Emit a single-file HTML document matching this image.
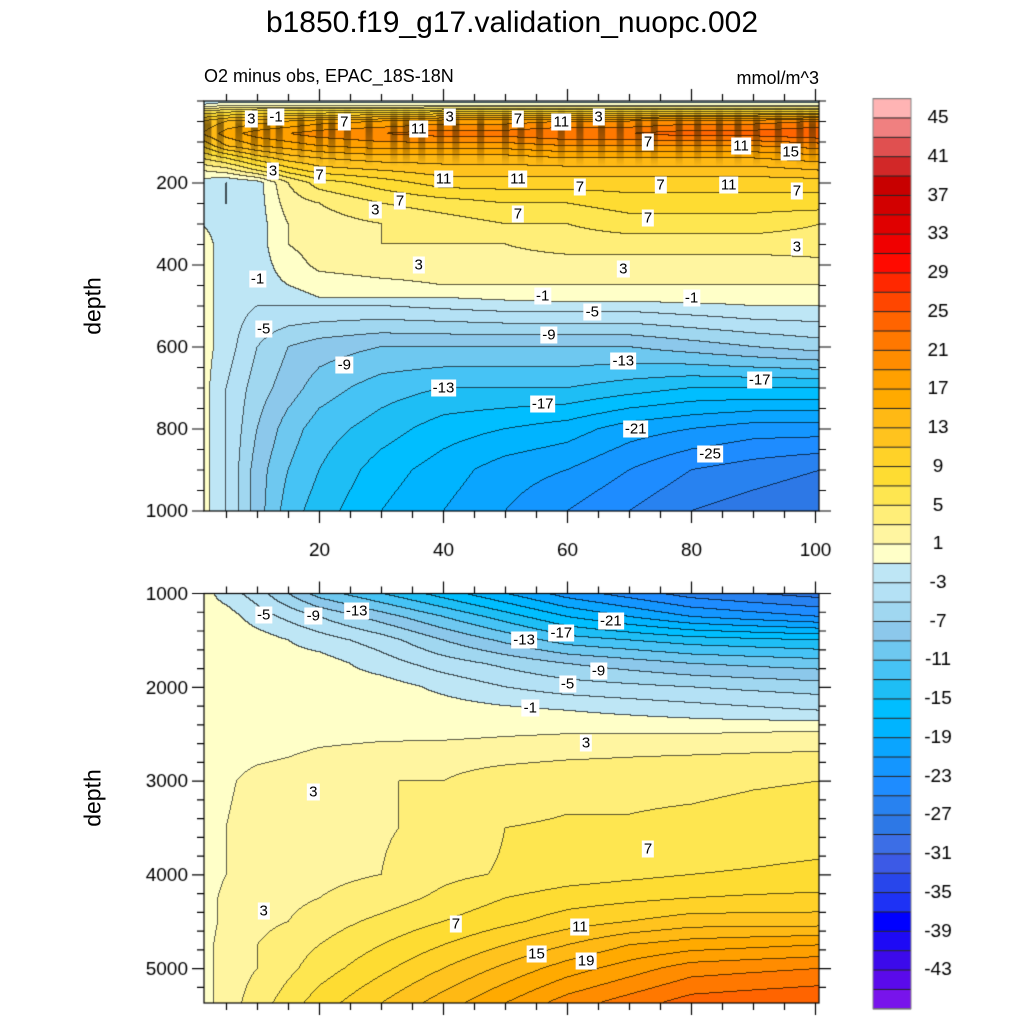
<!DOCTYPE html>
<html><head><meta charset="utf-8"><style>
body{margin:0;background:#fff;width:1024px;height:1024px;overflow:hidden;font-family:"Liberation Sans",sans-serif}
#wrap{position:relative;width:1024px;height:1024px}
canvas{position:absolute;left:0;top:0}
.t{position:absolute;color:#000;white-space:nowrap}
</style></head><body>
<div id="wrap">
<canvas id="c" width="1024" height="1024"></canvas>
<div class="t" style="left:0;width:1024px;text-align:center;top:6px;font-size:30px">b1850.f19_g17.validation_nuopc.002</div>
<div class="t" style="left:204px;top:66px;font-size:18px">O2 minus obs, EPAC_18S-18N</div>
<div class="t" style="left:700px;width:119px;text-align:right;top:68px;font-size:18px">mmol/m^3</div>
<div class="t" style="left:93px;top:306px;font-size:23px;transform:translate(-50%,-50%) rotate(-90deg)">depth</div>
<div class="t" style="left:93px;top:798px;font-size:23px;transform:translate(-50%,-50%) rotate(-90deg)">depth</div>
<div id="labels"></div>
</div>
<script>
// ---- data ----
const colors=["#ffb4b4","#f08080","#e05050","#d22828","#c80000","#d20000","#e00000","#f00000","#ff0a00","#ff2800","#ff4600","#ff6400","#ff7800","#ff8c00","#ffa000","#ffaa00","#ffb914","#ffc31e","#ffd228","#fedc32","#fee650","#ffee78","#fff5a0","#ffffc8","#bee6f5","#b4e1f5","#a0d7f0","#8cc8eb","#6ec8f0","#46c3f5","#1ebef5","#00beff","#00b4ff","#0aa5ff","#1496ff","#1e8cff","#2882f0","#2d78e6","#3c6ee6","#3c5ae6","#2846eb","#1e32f5","#0000ff","#1e0af5","#3c0aeb","#5a0aeb","#7814eb"];
const cbLabels=[45,41,37,33,29,25,21,17,13,9,5,1,-3,-7,-11,-15,-19,-23,-27,-31,-35,-39,-43];
const xCols=[1,5,10,15,20,30,40,50,60,70,80,90,101];
const topDepths=[0,10,25,50,80,110,140,170,200,250,300,350,400,450,480,500,600,700,800,900,1000];
const topGrid=[
[-2,-2,-2,-2,-2,-2,-2,-2,-2,-2,-2,-2,-2],
[-1,0,0,0,0,0,0,0,0,0,0,0,0],
[5,6,7,7,7,7,8,8,8,8,8,8,8],
[11,13,14,15,16,17,18,18,19,19,20,20,21],
[13,16,18,19,20,21,22,22,23,23,24,24,25],
[9,13,15,16,17,18,18,18,19,19,19,19,20],
[5,7,10,12,13,14,14,14,15,15,15,15,16],
[1,2,5,8,10,11,12,12,12,12,12,12,13],
[-2,-3,-2,3,6,8,10,10,10,10,10,10,10],
[-2,-3,-2,2,3,5,6,7,7,8,8,8,8],
[-1,-2,-2,1,2,3,4,5,5,6,6,6,5],
[0,-2,-2,1,2,3,3,3,4,4,4,4,4],
[0,-2,-2,0,1.5,2,2,2,2,2,2,2,2.5],
[0,-2,-2,-1,0,0.5,1,1,1,1,1,1,1],
[0,-2,-2,-2,-1,-1,-1,-0.5,0,0,0,0,0],
[0,-2,-3,-3,-3,-3,-2.5,-2,-2,-2,-1.5,-1,-1],
[0,-2,-5,-7,-8,-9,-9,-9,-9,-9,-8,-7,-6],
[0,-3,-6,-8,-10,-12,-13,-13,-13,-14,-15,-15,-15],
[0,-3,-7,-10,-12,-14,-16,-17,-18,-20,-21,-22,-22],
[0,-3,-8,-11,-13,-16,-18,-20,-21,-23,-25,-26,-27],
[0,-3,-8,-12,-14,-17,-19,-21,-23,-25,-27,-28,-29]];
const botDepths=[1000,1250,1500,1750,2000,2250,2500,2750,3000,3500,4000,4250,4500,4750,5000,5370];
const botGrid=[
[0,-2,-4,-7,-10,-13,-16,-19,-22,-24,-26,-27,-28],
[0,0,-2,-3.5,-5,-8,-11,-14,-17,-19,-21,-22,-23],
[0.5,0.5,0,-1,-2,-4,-7,-9.5,-12,-13,-14,-14.5,-15],
[0,0.5,0,0,0,-2,-4,-5.5,-7,-8,-9,-9.5,-10],
[0,0,0,0,0,0,-1.5,-3,-4,-4.5,-5,-5.5,-6],
[0,0,0,0,0,0,0,-0.5,-1,-1.5,-2,-2.5,-3],
[0,0,0,0,0.3,0.5,0.5,0.8,1,1,1,1.2,1.5],
[0,0,0.5,1,1.5,2,2.3,2.5,2.8,3,3.2,3.4,3.5],
[0,0.5,2,2.5,3,3,3,4,4.5,4.5,4.5,4.8,5],
[0,1,2.5,2.8,2.5,2.8,3.5,5,5.2,5.2,5.5,5.8,6],
[0,1,2,2.5,2.5,3,4.5,5.2,6,6.5,7,7.2,7.5],
[0,1.5,2,2.5,3,4,5.5,7,8,8.5,9,9.3,9.5],
[0,1.5,2.5,3,4,5.5,7,8.5,10,11,12,12,12],
[0,2,3,4,5,7,9,11,13,15,16,16.5,17],
[0,2,3,4.5,6,8.5,11,13.5,16,18,20,20.5,21],
[0,2,4,6,8,11,14,17,20,22,24,24.5,25]];
const stripeX=[2,4,7,9.5,11.5,13.5,17,20,22,24.5,28,32,34,36.5,39.5,42,46,50,52.5,55.5,59,62,65.5,68.5,71.5,74,78,81,84.5,87.5,90.5,94,97.5,99.5];
const topLabels=[[9,45,"3"],[13,40,"-1"],[24,50,"7"],[36,68,"11"],[41,40,"3"],[52,45,"7"],[59,50,"11"],[65,40,"3"],[73,100,"7"],[88,110,"11"],[96,125,"15"],[12.5,170,"3"],[20,180,"7"],[40,190,"11"],[52,190,"11"],[29,265,"3"],[33,245,"7"],[52,275,"7"],[62,210,"7"],[75,205,"7"],[73,285,"7"],[86,205,"11"],[97,220,"7"],[97,355,"3"],[36,400,"3"],[69,410,"3"],[10,435,"-1"],[56,475,"-1"],[80,480,"-1"],[11,555,"-5"],[64,515,"-5"],[57,570,"-9"],[24,645,"-9"],[40,700,"-13"],[69,635,"-13"],[56,740,"-17"],[91,680,"-17"],[71,800,"-21"],[83,860,"-25"]];
const botLabels=[[11,1230,"-5"],[19,1240,"-9"],[26,1190,"-13"],[53,1500,"-13"],[59,1420,"-17"],[67,1290,"-21"],[65,1830,"-9"],[60,1970,"-5"],[54,2220,"-1"],[63,2590,"3"],[19,3120,"3"],[11,4380,"3"],[73,3720,"7"],[42,4520,"7"],[62,4560,"11"],[55,4840,"15"],[63,4920,"19"]];
// ---- axes ----
const X0=204,X1=819;
const sx=v=>195.5+v*6.2;
const T={top:101,bot:511,d0:0,d1:1000}, B={top:593.5,bot:1003,d0:1000,d1:5366};
const sy=(P,d)=>P.top+(d-P.d0)/(P.d1-P.d0)*(P.bot-P.top);
function idxOf(v){let i=Math.floor((47-v)/2);return Math.max(0,Math.min(46,i));}
function interp(xs,ys,g,x,y){
  let i=0;while(i<xs.length-2&&x>xs[i+1])i++;
  let j=0;while(j<ys.length-2&&y>ys[j+1])j++;
  let tx=Math.max(0,Math.min(1,(x-xs[i])/(xs[i+1]-xs[i]))),ty=Math.max(0,Math.min(1,(y-ys[j])/(ys[j+1]-ys[j])));
  return g[j][i]*(1-tx)*(1-ty)+g[j][i+1]*tx*(1-ty)+g[j+1][i]*(1-tx)*ty+g[j+1][i+1]*tx*ty;
}
const rgb=colors.map(h=>[parseInt(h.slice(1,3),16),parseInt(h.slice(3,5),16),parseInt(h.slice(5,7),16)]);
const cv=document.getElementById('c'),ctx=cv.getContext('2d');
ctx.fillStyle='#fff';ctx.fillRect(0,0,1024,1024);
function drawPanel(P,ys,g){
  const x0=X0,y0=Math.round(P.top),w=X1-X0,h=Math.round(P.bot)-y0;
  const img=ctx.createImageData(w,h);const L=new Int16Array(w*h);
  for(let py=0;py<h;py++){const d=P.d0+(py+0.5+y0-P.top)/(P.bot-P.top)*(P.d1-P.d0);
    for(let px=0;px<w;px++){const xv=(px+0.5+x0-195.5)/6.2;L[py*w+px]=idxOf(interp(xCols,ys,g,xv,d));}}
  for(let py=0;py<h;py++)for(let px=0;px<w;px++){
    const k=py*w+px,l=L[k];let c=rgb[l];
    const edge=(px<w-1&&L[k+1]!==l)||(py<h-1&&L[k+w]!==l);
    const o=k*4;
    if(edge){img.data[o]=c[0]*0.35;img.data[o+1]=c[1]*0.35;img.data[o+2]=c[2]*0.35;}
    else{img.data[o]=c[0];img.data[o+1]=c[1];img.data[o+2]=c[2];}
    img.data[o+3]=255;}
  ctx.putImageData(img,x0,y0);
}
drawPanel(T,topDepths,topGrid);
drawPanel(B,botDepths,botGrid);
// stripes texture in top layer
ctx.save();ctx.beginPath();ctx.rect(X0,T.top,X1-X0,T.bot-T.top);ctx.clip();
stripeX.forEach(v=>{const x=sx(v);const ya=sy(T,15),yb=sy(T,160);const gr=ctx.createLinearGradient(0,ya,0,yb);
gr.addColorStop(0,'rgba(60,40,0,0)');gr.addColorStop(0.3,'rgba(60,40,0,0.6)');gr.addColorStop(0.6,'rgba(60,40,0,0.4)');gr.addColorStop(1,'rgba(60,40,0,0)');
ctx.fillStyle=gr;ctx.fillRect(x-3.5,ya,7,yb-ya);});
ctx.restore();
// frames + ticks
ctx.strokeStyle='#000';ctx.fillStyle='#000';ctx.lineWidth=1.2;
ctx.font='19px "Liberation Sans",sans-serif';
function frame(P,majors,minorStep,labelX){
  ctx.strokeRect(X0,P.top,X1-X0,P.bot-P.top);
  ctx.beginPath();
  for(let v=0;v<=100;v+=5){const x=sx(v);if(x<X0||x>X1)continue;const L=v%20===0?12:7;
    ctx.moveTo(x,P.top);ctx.lineTo(x,P.top-L);ctx.moveTo(x,P.bot);ctx.lineTo(x,P.bot+L);}
  for(let d=P.d0;d<=P.d1;d+=minorStep){const y=sy(P,d);const L=majors.includes(d)?12:7;
    ctx.moveTo(X0,y);ctx.lineTo(X0-L,y);ctx.moveTo(X1,y);ctx.lineTo(X1+L,y);}
  ctx.stroke();
  ctx.textAlign='right';ctx.textBaseline='middle';
  majors.forEach(d=>{ctx.fillText(String(d),X0-16,sy(P,d)+1);});
  if(labelX){ctx.textAlign='center';ctx.textBaseline='top';[20,40,60,80,100].forEach(v=>ctx.fillText(String(v),sx(v),541));}
}
frame(T,[200,400,600,800,1000],50,true);
frame(B,[1000,2000,3000,4000,5000],200,false);
// colorbar
const cbx=873,cbw=38,cbt=98.6,cbb=1008.8,bh=(cbb-cbt)/colors.length;
colors.forEach((c,i)=>{ctx.fillStyle=c;ctx.fillRect(cbx,cbt+i*bh,cbw,bh);});
ctx.strokeStyle='#222';ctx.lineWidth=1;ctx.beginPath();
for(let i=0;i<=colors.length;i++){ctx.moveTo(cbx,cbt+i*bh);ctx.lineTo(cbx+cbw,cbt+i*bh);}
ctx.stroke();ctx.strokeStyle='#888';ctx.strokeRect(cbx,cbt,cbw,cbb-cbt);
ctx.fillStyle='#000';ctx.textAlign='center';ctx.textBaseline='middle';
cbLabels.forEach(v=>{ctx.fillText(String(v),938,cbt+(47-v)/2*bh);});
// contour labels
const lab=document.getElementById('labels');
function addLabels(arr,P){arr.forEach(a=>{const el=document.createElement('div');


el.className='t';el.textContent=a[2];
el.style.cssText+='left:'+sx(a[0])+'px;top:'+sy(P,a[1])+'px;transform:translate(-50%,-50%);background:#fff;font-size:15px;padding:0 2px;line-height:17px';
lab.appendChild(el);});}
addLabels(topLabels,T);addLabels(botLabels,B);
</script>
</body></html>
